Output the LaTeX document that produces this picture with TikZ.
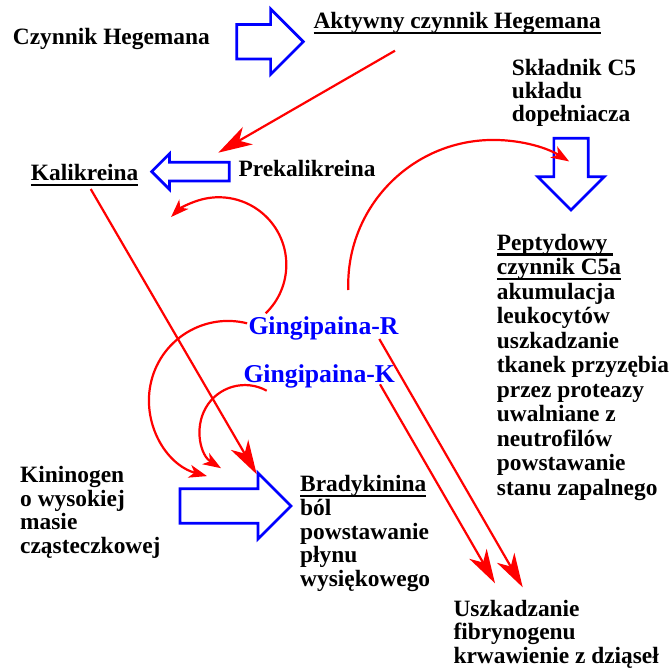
\documentclass[tikz,border=0pt]{standalone}
\usepackage{fontspec}
\setmainfont{Liberation Serif}
\usetikzlibrary{arrows.meta,shapes.arrows}
\newsavebox\undlbox
\newcommand\undl[1]{\sbox\undlbox{#1}\rlap{\rule[-5.6pt]{\wd\undlbox}{2.3pt}}\usebox\undlbox}

\begin{document}
\begin{tikzpicture}[x=1pt,y=-1pt,
	txt/.style={inner sep=0pt,anchor=base west,align=left,font=\fontsize{23.4}{24}\selectfont\bfseries},
	gng/.style={txt,text=blue,font=\fontsize{25.7}{26}\selectfont\bfseries},
	blk/.style={single arrow,draw=blue,line width=2.7pt,inner xsep=0pt,outer sep=0pt,minimum width=0pt,single arrow tip angle=90,anchor=tip},
	big/.style={draw=red,line width=2.2pt,-{Stealth[length=34pt,width=20pt,inset=10pt]}},
	sml/.style={draw=red,line width=2.2pt,-{Stealth[length=18pt,width=13pt,inset=5pt]}}]
	\useasboundingbox (0,0) rectangle (671,669);
	% multi-line nodes sit on the baseline of their last line
	\node[txt]	(HG) at (12.7,45)	{Czynnik Hegemana};
	\node[txt]	(AK) at (313.3,28.3)	{\undl{Aktywny czynnik Hegemana}};
	\node[txt,font=\fontsize{23.4}{23}\selectfont\bfseries]	(C5) at (511.7,121)	{Składnik C5\\układu\\dopełniacza};
	\node[txt,font=\fontsize{23.4}{24.5}\selectfont\bfseries]	(PC) at (496.7,495)	{\undl{Peptydowy\ }\\\undl{czynnik C5a}\\akumulacja\\leukocytów\\uszkadzanie\\tkanek przyzębia\\przez proteazy\\uwalniane z\\neutrofilów\\powstawanie\\stanu zapalnego};
	\node[txt]	(PR) at (238.3,176.7)	{Prekalikreina};
	\node[txt]	(KL) at (30.7,180.7)	{\undl{Kalikreina}};
	\node[gng]	(GR) at (248.3,334.3)	{Gingipaina-R};
	\node[gng]	(GK) at (243.3,382.3)	{Gingipaina-K};
	\node[txt,font=\fontsize{23.4}{23.6}\selectfont\bfseries]	(KN) at (20,553.5)	{Kininogen\\o wysokiej\\masie\\cząsteczkowej};
	\node[txt,font=\fontsize{23.4}{23.75}\selectfont\bfseries]	(BR) at (300,586.7)	{\undl{Bradykinina}\\ból\\powstawanie\\płynu\\wysiękowego};
	\node[txt,font=\fontsize{23.4}{23.7}\selectfont\bfseries]	(UF) at (453.3,663.4)	{Uszkadzanie\\fibrynogenu\\krwawienie z dziąseł};
	\node[blk,inner ysep=15.85pt,single arrow head extend=15.5pt,minimum height=66.6pt]	(HA) at (303.3,41.7) {};
	\node[blk,inner ysep=8pt,single arrow head extend=8.35pt,minimum height=77.6pt,rotate=180]	(PK) at (151.7,171.6) {};
	\node[blk,inner ysep=15.8pt,single arrow head extend=16.2pt,minimum height=71.7pt,rotate=-90]	(CA) at (571,210) {};
	\node[blk,inner ysep=15.85pt,single arrow head extend=15.85pt,minimum height=111pt]	(KB) at (291,506) {};
	\path
	([shift={(81.7,22.4)}]AK.base west) edge[big] ([shift={(-20,-24)}]PR.base west)
	([shift={(60,8.3)}]KL.base west) edge[big] ([shift={(-34.3,-31.7)}]KB.tip)
	([shift={(131,4.7)}]GR.base west) edge[big] ([shift={(69.4,-76.1)}]UF.base west)
	([shift={(136.7,2)}]GK.base west) edge[big] ([shift={(41.7,-80.1)}]UF.base west)
	;
	\draw[sml] ([shift={(17.4,-21)}]GR.base west) arc[start angle=46,end angle=-135,radius=67.5];
	\draw[sml] ([shift={(-1.2,-11)}]GR.base west) arc[start angle=-76,end angle=-254.6,radius=79];
	\draw[sml] ([shift={(23.4,8.4)}]GK.base west) arc[start angle=-61,end angle=-238,radius=45];
	\draw[sml] ([shift={(100,-44.3)}]GR.base west) arc[start angle=178,end angle=301.6,radius=145];
\end{tikzpicture}
\end{document}
